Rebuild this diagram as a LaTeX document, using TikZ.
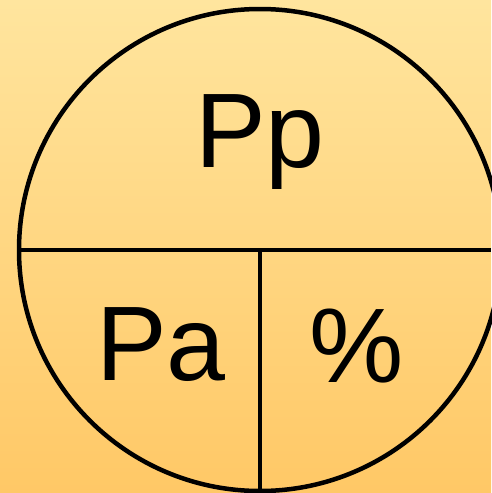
\documentclass[tikz,border=0pt]{standalone}
\usepackage{fontspec}
\setmainfont{Liberation Sans}
\usepackage{tikz}
\usetikzlibrary{positioning,calc}
\definecolor{paletop}{RGB}{255,229,158}
\definecolor{palebot}{RGB}{255,200,102}

\begin{document}
\begin{tikzpicture}[x=1pt, y=-1pt,
  rule/.style={line width=4.5pt, draw=black},
  caption/.style={font=\fontsize{106}{120}\selectfont, anchor=base, inner sep=0pt}]
  % background
  \shade[top color=paletop, bottom color=palebot] (0,0) rectangle (491,493);
  \useasboundingbox (0,0) rectangle (491,493);
  % wheel
  \coordinate (hub) at (260,250);
  \coordinate (west) at (19,250);
  \coordinate (south) at (260,491);
  \coordinate (edge) at (491,250);
  \draw[rule] (hub) circle[radius=241];
  \draw[rule] (west) -- (edge);
  \draw[rule] (hub) -- (south);
  % texts
  \node[caption] (pp) at (260,167) {Pp};
  \node[caption] (pa) at (161,380) {Pa};
  \node[caption] (pct) at (357,382) {\%};
\end{tikzpicture}
\end{document}
